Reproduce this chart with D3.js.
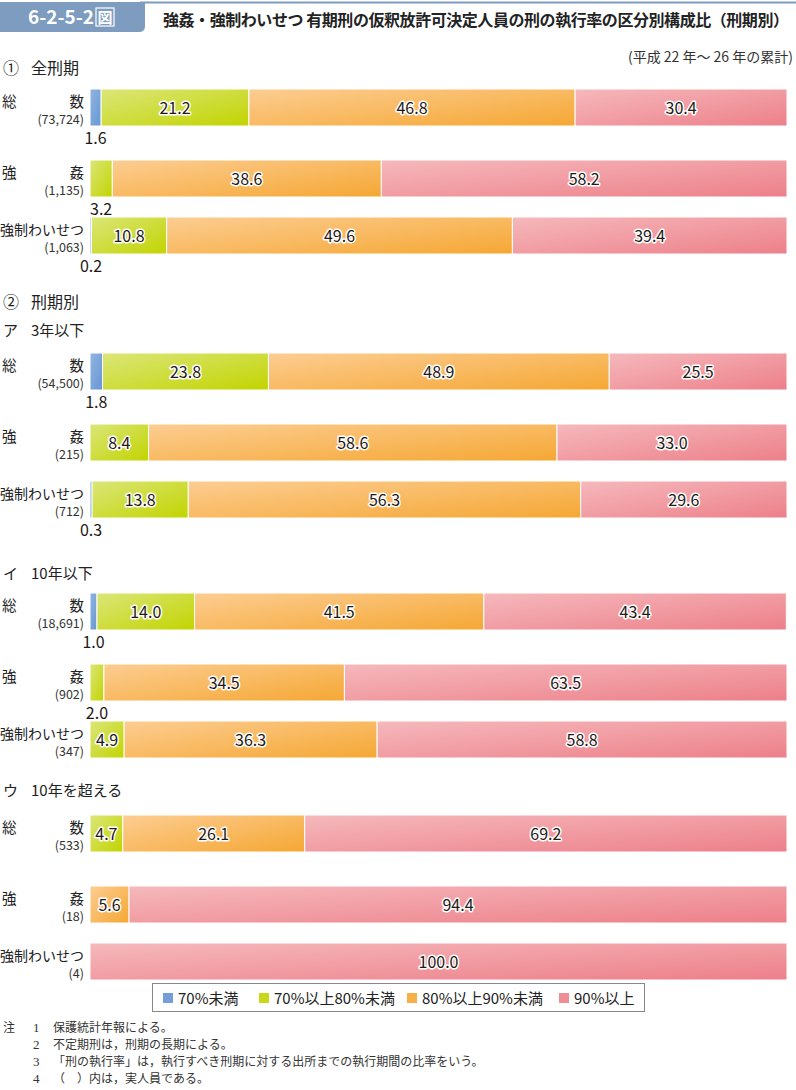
<!DOCTYPE html>
<html><head><meta charset="utf-8">
<script src="https://cdn.jsdelivr.net/npm/d3@7"></script>
<style>
body{margin:0;background:#fff;}
svg{display:block;font-family:"Noto Sans CJK JP","Noto Sans",sans-serif;}
</style></head>
<body>
<svg id="c" width="796" height="1090"></svg>
<script>
// ---- data ----
const groupTitles = ["① 全刑期", "ア 3年以下", "イ 10年以下", "ウ 10年を超える"];
const rowNames = ["総数", "強姦", "強制わいせつ"];
const counts = [73724, 1135, 1063, 54500, 215, 712, 18691, 902, 347, 533, 18, 4];
const seriesNames = ["70%未満", "70%以上80%未満", "80%以上90%未満", "90%以上"];
const under70  = [1.6, 0, 0.2, 1.8, 0, 0.3, 1.0, 0, 0, 0, 0, 0];
const r70to80  = [21.2, 3.2, 10.8, 23.8, 8.4, 13.8, 14.0, 2.0, 4.9, 4.7, 0, 0];
const r80to90  = [46.8, 38.6, 49.6, 48.9, 58.6, 56.3, 41.5, 34.5, 36.3, 26.1, 5.6, 0];
const over90   = [30.4, 58.2, 39.4, 25.5, 33.0, 29.6, 43.4, 63.5, 58.8, 69.2, 94.4, 100.0];
const notes = [
  ["注", "1", "保護統計年報による。"],
  ["", "2", "不定期刑は，刑期の長期による。"],
  ["", "3", "「刑の執行率」は，執行すべき刑期に対する出所までの執行期間の比率をいう。"],
  ["", "4", "（　）内は，実人員である。"]
];
const title = "強姦・強制わいせつ 有期刑の仮釈放許可決定人員の刑の執行率の区分別構成比（刑期別）";
const figNo = "6-2-5-2";
const subtitle = "(平成 22 年～ 26 年の累計)";

// ---- layout ----
const groupTops = [89, 353, 593, 815];
const rowOffsets = [0, 71, 128];
const barH = 37;
const grads = [["#93b5e2", "#6596d3"], ["#dbe679", "#c2d400"], ["#fccd92", "#f5a733"], ["#f5b9bc", "#ed7f89"]];

const svg = d3.select("#c");
const defs = svg.append("defs");
grads.forEach((g, i) => {
  const lg = defs.append("linearGradient").attr("id", "g" + i)
    .attr("x1", 0).attr("y1", 0).attr("x2", 1).attr("y2", 1);
  lg.append("stop").attr("offset", "0%").attr("stop-color", g[0]);
  lg.append("stop").attr("offset", "100%").attr("stop-color", g[1]);
});

const x = d3.scaleLinear().domain([0, 100]).range([90, 787]);
const yTop = i => groupTops[Math.floor(i / 3)] + rowOffsets[i % 3];

// header
svg.append("line").attr("x1", 140).attr("x2", 796).attr("y1", 2.5).attr("y2", 2.5)
  .attr("stroke", "#7d9cbf").attr("stroke-width", 2);
svg.append("path").attr("d", "M0,2 H145 V26 Q145,32 139,32 H0 Z").attr("fill", "#7d9cbf");
svg.append("text").attr("x", 28).attr("y", 24).attr("fill", "#fff").attr("font-size", 19)
  .attr("font-weight", "bold").text(figNo);
svg.append("rect").attr("x", 96).attr("y", 8).attr("width", 18).attr("height", 18)
  .attr("fill", "none").attr("stroke", "#fff").attr("stroke-width", 1.2);
svg.append("text").attr("x", 105).attr("y", 23).attr("text-anchor", "middle").attr("fill", "#fff")
  .attr("font-size", 15).attr("font-weight", "bold").text("図");
svg.append("text").attr("x", 163).attr("y", 26).attr("font-size", 16).attr("font-weight", "bold")
  .attr("fill", "#222").attr("textLength", 626).attr("lengthAdjust", "spacing").text(title);
svg.append("text").attr("x", 793).attr("y", 62).attr("text-anchor", "end").attr("font-size", 14)
  .attr("fill", "#333").text(subtitle);

// section headings
function heading(sym, txt, y, sz) {
  svg.append("text").attr("x", 3).attr("y", y).attr("font-size", sz).attr("fill", "#222").text(sym);
  svg.append("text").attr("x", 31).attr("y", y).attr("font-size", sz).attr("fill", "#222").text(txt);
}
heading("①", "全刑期", 74, 16);
heading("②", "刑期別", 308, 16);
groupTitles.slice(1).forEach((t, k) => {
  const parts = t.split(" ");
  heading(parts[0], parts.slice(1).join(" "), [336, 579, 796][k], 15);
});

// bars
const data = counts.map((c, i) => ({i, c, vals: [under70[i], r70to80[i], r80to90[i], over90[i]]}));
const rows = svg.append("g").selectAll("g").data(data).join("g");

rows.each(function(d) {
  const g = d3.select(this);
  const top = yTop(d.i);
  const name = rowNames[d.i % 3];
  if (name.length === 2) {
    g.append("text").attr("x", 2).attr("y", top + 17.5).attr("font-size", 14.5).attr("fill", "#222").text(name[0]);
    g.append("text").attr("x", 84).attr("y", top + 17.5).attr("text-anchor", "end").attr("font-size", 14.5).attr("fill", "#222").text(name[1]);
  } else {
    g.append("text").attr("x", 84).attr("y", top + 17.5).attr("text-anchor", "end").attr("font-size", 14)
      .attr("fill", "#222").text(name);
  }
  g.append("text").attr("x", 84).attr("y", top + 35).attr("text-anchor", "end").attr("font-size", 12.5)
    .attr("fill", "#333").text("(" + d3.format(",")(d.c) + ")");

  let cum = 0;
  d.vals.forEach((v, s) => {
    const x0 = cum; cum += v;
    if (v <= 0) return;
    g.append("rect").attr("x", x(x0)).attr("y", top).attr("width", x(cum) - x(x0)).attr("height", barH)
      .attr("fill", `url(#g${s})`).attr("stroke", "#fff").attr("stroke-width", 1);
    const cx = (x(x0) + x(cum)) / 2;
    if (v >= 4) {
      g.append("text").attr("x", cx).attr("y", top + barH / 2 + 6).attr("text-anchor", "middle")
        .attr("font-size", 16).attr("fill", "#231815").attr("stroke", "#fff").attr("stroke-width", 3)
        .attr("stroke-linejoin", "round").attr("paint-order", "stroke").text(v.toFixed(1));
    } else {
      g.append("text").attr("x", Math.max(cx, 91)).attr("y", top + barH + 18).attr("text-anchor", "middle")
        .attr("font-size", 16).attr("fill", "#231815").text(v.toFixed(1));
    }
  });
});

// legend
svg.append("rect").attr("x", 152.5).attr("y", 983.5).attr("width", 492).attr("height", 28)
  .attr("fill", "#fff").attr("stroke", "#888").attr("stroke-width", 1);
const legX = [163, 259, 407, 559];
seriesNames.forEach((n, s) => {
  svg.append("rect").attr("x", legX[s]).attr("y", 993).attr("width", 10).attr("height", 10).attr("fill", grads[s][1]).attr("opacity", 0.9);
  svg.append("text").attr("x", legX[s] + 15).attr("y", 1003.5).attr("font-size", 15).attr("fill", "#222").text(n);
});

// notes
notes.forEach((n, k) => {
  const y = 1032 + k * 17;
  svg.append("text").attr("x", 3).attr("y", y).attr("font-size", 12).attr("fill", "#333").text(n[0]);
  svg.append("text").attr("x", 33).attr("y", y).attr("font-size", 13).attr("fill", "#333")
    .attr("font-family", "Liberation Serif, serif").text(n[1]);
  svg.append("text").attr("x", 53).attr("y", y).attr("font-size", 12).attr("fill", "#333").text(n[2]);
});
</script>
</body></html>
